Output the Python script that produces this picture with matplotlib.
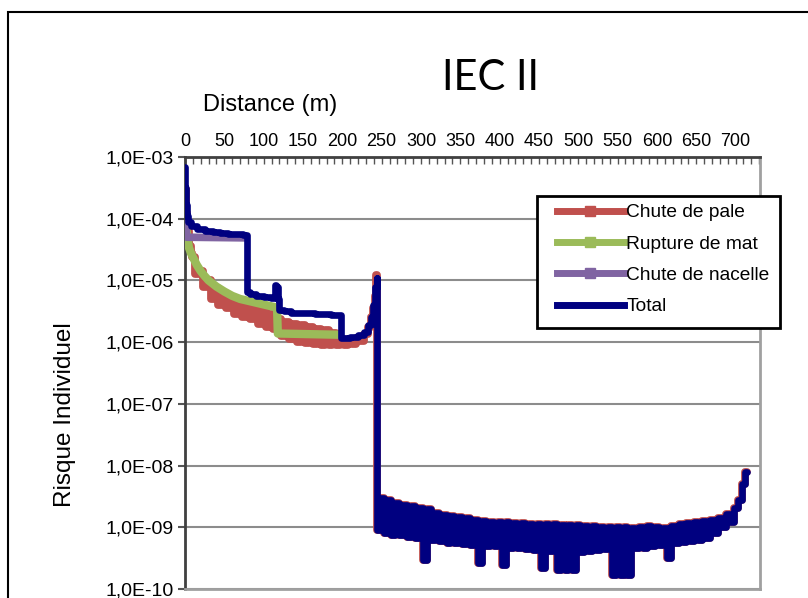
import matplotlib
matplotlib.use("Agg")
import matplotlib.pyplot as plt
import numpy as np
from matplotlib.lines import Line2D
from matplotlib.patches import Rectangle
from matplotlib.ticker import MultipleLocator, NullLocator

plt.rcParams['font.family'] = ['Liberation Sans', 'DejaVu Sans']

# ---------------- data (risk values stored as log10) ----------------
series_names = ["Chute de pale", "Rupture de mat", "Chute de nacelle", "Total"]

# Chute de pale, near zone (0-245 m)
pale_near_dist = [0, 2, 4, 6, 8, 10,
                  15, 20, 25, 30, 35, 40, 45, 50, 55, 60,
                  65, 70, 75, 80, 85, 90, 95, 100, 105, 110,
                  115, 120, 125, 130, 135, 140, 145, 150, 155, 160,
                  165, 170, 175, 180, 185, 190, 195, 200, 205, 210,
                  215, 220, 225, 230, 235, 238, 240, 242, 244]
pale_near_log = [-3.52, -3.90, -4.20, -4.45, -4.55, -4.62,
                 -4.90, -4.85, -5.10, -5.00, -5.30, -5.12, -5.40, -5.20, -5.45, -5.27,
                 -5.55, -5.33, -5.60, -5.38, -5.62, -5.45, -5.70, -5.50, -5.75, -5.55,
                 -5.78, -5.62, -5.90, -5.68, -5.95, -5.70, -6.00, -5.72, -6.02, -5.75,
                 -6.03, -5.78, -6.04, -5.80, -6.05, -5.85, -6.05, -5.95, -6.05, -5.95,
                 -6.03, -5.93, -5.98, -5.87, -5.75, -5.60, -5.45, -5.25, -4.92]

# Far zone (245-714 m): chute de pale == total there
far_dist = [245] + list(range(250, 715, 5)) + [714]
far_log = [-9.05,
           -8.53, -9.10, -8.56, -9.13, -8.60, -9.13, -8.64, -9.16, -8.66, -9.18,
           -8.68, -9.53, -8.70, -9.21, -8.77, -9.23, -8.80, -9.25, -8.82, -9.26,
           -8.84, -9.27, -8.85, -9.28, -8.88, -9.58, -8.90, -9.30, -8.91, -9.31,
           -8.92, -9.61, -8.92, -9.33, -8.93, -9.34, -8.93, -9.35, -8.94, -9.36,
           -8.94, -9.66, -8.95, -9.38, -8.95, -9.69, -8.96, -9.69, -8.96, -9.69,
           -8.97, -9.40, -8.98, -9.38, -8.98, -9.36, -8.99, -9.35, -9.00, -9.77,
           -9.00, -9.77, -9.00, -9.77, -9.01, -9.34, -9.00, -9.33, -8.98, -9.31,
           -9.00, -9.29, -9.01, -9.50, -8.98, -9.26, -8.94, -9.24, -8.93, -9.22,
           -8.92, -9.20, -8.90, -9.17, -8.88, -9.10, -8.85, -9.00, -8.79, -8.92,
           -8.69, -8.55, -8.30,
           -8.10]

# Rupture de mat
mat_dist = [0, 1, 2, 3, 5, 8, 10, 15, 20, 25, 30, 40, 50, 60, 70, 80, 90, 100, 110, 117, 118, 195]
mat_log = [-3.97, -4.10, -4.20, -4.30, -4.47, -4.57, -4.62, -4.75, -4.85, -4.93, -5.00,
           -5.10, -5.18, -5.25, -5.30, -5.33, -5.36, -5.39, -5.42, -5.44, -5.86, -5.88]

# Chute de nacelle
nacelle_dist = [0, 1, 2, 73]
nacelle_log = [-3.78, -4.10, -4.30, -4.31]

# Total, near zone
total_near_dist = [0, 1, 2, 3, 5, 10, 20, 30, 40, 50, 60, 70, 78, 79, 85, 95, 105, 113,
                   115, 117, 119, 121, 130, 140, 150, 160, 170, 180, 190, 198, 199,
                   205, 215, 225, 230, 235, 238, 241, 243, 244]
total_near_log = [-3.16, -3.50, -3.78, -3.95, -4.05, -4.12, -4.17, -4.20, -4.22, -4.23,
                  -4.24, -4.25, -4.26, -5.19, -5.22, -5.25, -5.27, -5.28,
                  -5.07, -5.10, -5.30, -5.48, -5.50, -5.52, -5.53, -5.53, -5.54, -5.55,
                  -5.56, -5.56, -5.93, -5.93, -5.92, -5.88, -5.84, -5.72, -5.60, -5.40,
                  -5.10, -4.96]

x_tick_vals = [0, 50, 100, 150, 200, 250, 300, 350, 400, 450, 500, 550, 600, 650, 700]
x_tick_labels = ["0", "50", "100", "150", "200", "250", "300", "350", "400", "450",
                 "500", "550", "600", "650", "700"]
y_tick_vals = [1e-10, 1e-9, 1e-8, 1e-7, 1e-6, 1e-5, 1e-4, 1e-3]
y_tick_labels = ["1,0E-10", "1,0E-09", "1,0E-08", "1,0E-07", "1,0E-06",
                 "1,0E-05", "1,0E-04", "1,0E-03"]

colors = ["#C0504D", "#9BBB59", "#8064A2", "#000080"]

# ---------------- figure ----------------
W, H = 808, 598
fig = plt.figure(figsize=(W / 100, H / 100), dpi=100)
ax = fig.add_axes([185 / W, 1 - 589 / H, (760 - 185) / W, (589 - 157) / H])

pale_dist = pale_near_dist + far_dist
pale_vals = 10 ** np.array(pale_near_log + far_log)
total_dist = total_near_dist + far_dist
total_vals = 10 ** np.array(total_near_log + far_log)

ax.plot(pale_dist, pale_vals, color=colors[0], lw=5.6, drawstyle='steps-mid',
        solid_joinstyle='round', solid_capstyle='round', zorder=3)
ax.plot(mat_dist, 10 ** np.array(mat_log), color=colors[1], lw=6.0,
        solid_joinstyle='round', zorder=3)
ax.plot(nacelle_dist, 10 ** np.array(nacelle_log), color=colors[2], lw=5.5,
        solid_joinstyle='round', zorder=3)
ax.plot(total_dist, total_vals, color=colors[3], lw=4.8, drawstyle='steps-mid',
        solid_joinstyle='round', solid_capstyle='round', zorder=4)

ax.set_yscale('log')
ax.set_ylim(1e-10, 1e-3)
ax.set_xlim(0, 731)

ax.set_yticks(y_tick_vals)
ax.set_yticklabels(y_tick_labels)
ax.yaxis.set_minor_locator(NullLocator())

ax.xaxis.tick_top()
ax.set_xticks(x_tick_vals)
ax.set_xticklabels(x_tick_labels)
ax.xaxis.set_minor_locator(MultipleLocator(10))

ax.tick_params(axis='x', which='both', direction='in', length=5, width=1,
               color='#555555', labelsize=13, pad=5)
ax.tick_params(axis='y', which='major', direction='out', length=5, width=1.5,
               color='#555555', labelsize=14, pad=3)

ax.yaxis.grid(True, which='major', color='#8c8c8c', lw=1.5)
ax.set_axisbelow(True)

for side in ['top', 'left']:
    ax.spines[side].set_color('#404040')
    ax.spines[side].set_linewidth(2)
for side in ['right', 'bottom']:
    ax.spines[side].set_color('#a0a0a0')
    ax.spines[side].set_linewidth(2)

# legend (frame drawn separately to match the original's padding)
box_l, box_r, box_t, box_b = 537, 780, 196, 328
ax_l, ax_w, ax_t, ax_h = 185, 575, 157, 432
frame = Rectangle(((box_l - ax_l) / ax_w, 1 - (box_b - ax_t) / ax_h),
                  (box_r - box_l) / ax_w, (box_b - box_t) / ax_h,
                  transform=ax.transAxes, fc='white', ec='black', lw=2,
                  clip_on=False, zorder=9)
ax.add_patch(frame)

handles = [
    Line2D([], [], color=colors[0], lw=5, marker='s', ms=6.5),
    Line2D([], [], color=colors[1], lw=5, marker='s', ms=6.5),
    Line2D([], [], color=colors[2], lw=5, marker='s', ms=6.5),
    Line2D([], [], color=colors[3], lw=5),
]
leg = ax.legend(handles, series_names, loc='upper left',
                bbox_to_anchor=((553 - ax_l) / ax_w, 1 - (200 - ax_t) / ax_h),
                borderaxespad=0, fontsize=13.8, frameon=False,
                handlelength=3.5, handletextpad=0.12,
                labelspacing=0.73, borderpad=0.2)
leg.set_zorder(10)

# texts
fig.text(490 / W, 1 - 78 / H, "IEC II", family=['Lato', 'DejaVu Sans'], fontsize=30,
         ha='center', va='center')
fig.text(203 / W, 1 - 111 / H, "Distance (m)", fontsize=17, ha='left', va='baseline')
fig.text(65 / W, 1 - 415 / H, "Risque Individuel", fontsize=17.5, rotation=90,
         ha='center', va='center')

# outer chart frame
fig.add_artist(Rectangle((8 / W, -0.05), 1.2, 1 - 12 / H + 0.05, transform=fig.transFigure,
                         fill=False, ec='black', lw=1.5, clip_on=False))

fig.savefig("out.png", dpi=100)
